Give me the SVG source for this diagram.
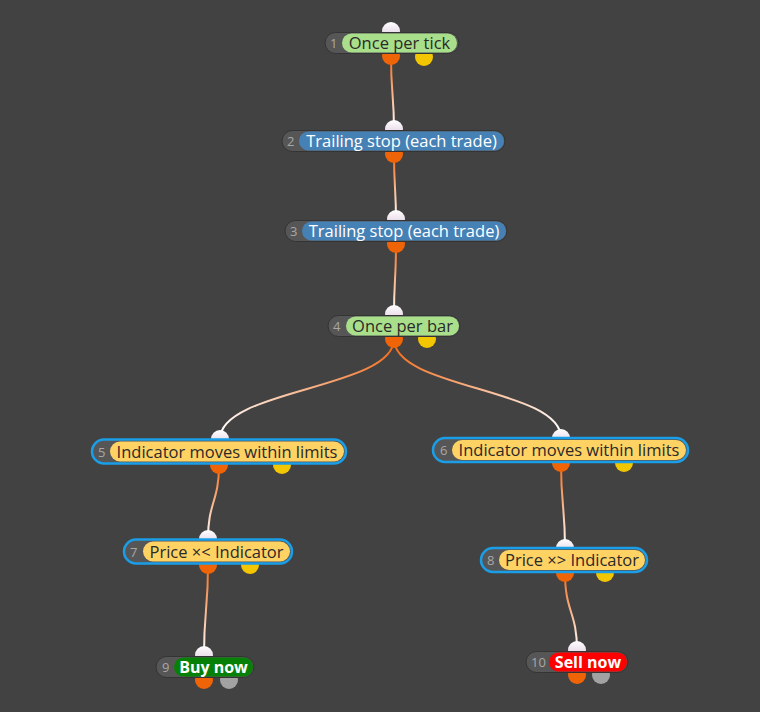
<svg xmlns="http://www.w3.org/2000/svg" width="760" height="712" viewBox="0 0 760 712">
<style>
.bg{fill:#424242}
.base{fill:#565656;stroke:#343434;stroke-width:1}
.sel{fill:#565656;stroke:#1a9ee8;stroke-width:2.5}
.num{font-family:"Open Sans","Noto Sans",sans-serif;font-size:13px;fill:#a8a8a8}
.lbl{font-family:"Open Sans","Noto Sans",sans-serif;font-size:16.5px;text-anchor:middle}
.dark{fill:#2a2a2a}
.light{fill:#ffffff}
.bold{font-weight:bold;fill:#ffffff;font-size:16px}
.green{fill:#a9df8b}
.blue{fill:#4681b5}
.yel{fill:#ffd264}
.buy{fill:#078007}
.sell{fill:#ff0000}
.in{fill:url(#gin)}
.out{fill:#f06408}
.aux{fill:#f2c600}
.grey{fill:#a2a2a2}
.edge{fill:none;stroke-width:2}
</style>
<defs>
<linearGradient id="gin" x1="0" y1="0" x2="0" y2="1"><stop offset="0" stop-color="#ffffff"/><stop offset="1" stop-color="#dcc6dc"/></linearGradient>
<linearGradient id="e1" gradientUnits="userSpaceOnUse" x1="391" y1="57" x2="394" y2="131"><stop offset="0" stop-color="#f26a18"/><stop offset="1" stop-color="#ffffff"/></linearGradient>
<linearGradient id="e2" gradientUnits="userSpaceOnUse" x1="394" y1="154" x2="396" y2="221"><stop offset="0" stop-color="#f26a18"/><stop offset="1" stop-color="#ffffff"/></linearGradient>
<linearGradient id="e3" gradientUnits="userSpaceOnUse" x1="396" y1="244" x2="394" y2="315"><stop offset="0" stop-color="#f26a18"/><stop offset="1" stop-color="#ffffff"/></linearGradient>
<linearGradient id="e4" gradientUnits="userSpaceOnUse" x1="394" y1="339" x2="220" y2="439"><stop offset="0" stop-color="#f26a18"/><stop offset="1" stop-color="#ffffff"/></linearGradient>
<linearGradient id="e5" gradientUnits="userSpaceOnUse" x1="394" y1="339" x2="561" y2="438"><stop offset="0" stop-color="#f26a18"/><stop offset="1" stop-color="#ffffff"/></linearGradient>
<linearGradient id="e6" gradientUnits="userSpaceOnUse" x1="219" y1="465" x2="208" y2="539"><stop offset="0" stop-color="#f26a18"/><stop offset="1" stop-color="#ffffff"/></linearGradient>
<linearGradient id="e7" gradientUnits="userSpaceOnUse" x1="561" y1="463" x2="565" y2="548"><stop offset="0" stop-color="#f26a18"/><stop offset="1" stop-color="#ffffff"/></linearGradient>
<linearGradient id="e8" gradientUnits="userSpaceOnUse" x1="208" y1="565" x2="204" y2="655"><stop offset="0" stop-color="#f26a18"/><stop offset="1" stop-color="#ffffff"/></linearGradient>
<linearGradient id="e9" gradientUnits="userSpaceOnUse" x1="565" y1="573" x2="577" y2="650"><stop offset="0" stop-color="#f26a18"/><stop offset="1" stop-color="#ffffff"/></linearGradient>
</defs>
<rect class="bg" x="0" y="0" width="760" height="712"/>
<g id="connectors">
<path class="edge" stroke="url(#e1)" d="M391,57 C391,94 394,94 394,131"/>
<path class="edge" stroke="url(#e2)" d="M394,154 C394,188 396,188 396,221"/>
<path class="edge" stroke="url(#e3)" d="M396,244 C396,280 394,280 394,315"/>
<path class="edge" stroke="url(#e4)" d="M394,339 C394,389 220,389 220,439"/>
<path class="edge" stroke="url(#e5)" d="M394,339 C394,389 561,388 561,438"/>
<path class="edge" stroke="url(#e6)" d="M219,465 C219,502 208,502 208,539"/>
<path class="edge" stroke="url(#e7)" d="M561,463 C561,506 565,506 565,548"/>
<path class="edge" stroke="url(#e8)" d="M208,565 C208,610 204,610 204,655"/>
<path class="edge" stroke="url(#e9)" d="M565,573 C565,612 577,612 577,650"/>
</g>
<g id="node1">
<circle class="in" cx="391" cy="31" r="9"/>
<circle class="out" cx="391" cy="56" r="9"/>
<circle class="aux" cx="424" cy="57" r="9"/>
<rect class="base" x="325" y="32.5" width="134" height="21" rx="10.5"/>
<rect class="green" x="342" y="33.5" width="115" height="19" rx="9.5"/>
<text class="num" x="330" y="48">1</text>
<text class="lbl dark" x="399.5" y="49">Once per tick</text>
</g>
<g id="node2">
<circle class="in" cx="394" cy="129" r="9"/>
<circle class="out" cx="394" cy="154" r="9"/>
<rect class="base" x="282" y="130.5" width="223" height="21" rx="10.5"/>
<rect class="blue" x="299" y="131.5" width="205" height="19" rx="9.5"/>
<text class="num" x="287" y="146">2</text>
<text class="lbl light" x="401.5" y="147">Trailing stop (each trade)</text>
</g>
<g id="node3">
<circle class="in" cx="396" cy="219" r="9"/>
<circle class="out" cx="396" cy="244" r="9"/>
<rect class="base" x="285" y="220.5" width="222" height="21" rx="10.5"/>
<rect class="blue" x="302" y="221.5" width="204" height="19" rx="9.5"/>
<text class="num" x="290" y="236">3</text>
<text class="lbl light" x="404" y="237">Trailing stop (each trade)</text>
</g>
<g id="node4">
<circle class="in" cx="394" cy="314" r="9"/>
<circle class="out" cx="394" cy="339" r="9"/>
<circle class="aux" cx="427" cy="339" r="9"/>
<rect class="base" x="328" y="315.5" width="132" height="21" rx="10.5"/>
<rect class="green" x="346" y="316.5" width="113" height="19" rx="9.5"/>
<text class="num" x="333" y="331">4</text>
<text class="lbl dark" x="402.5" y="332">Once per bar</text>
</g>
<g id="node5">
<circle class="in" cx="220" cy="439" r="9"/>
<circle class="out" cx="219" cy="465" r="9"/>
<circle class="aux" cx="282" cy="465" r="9"/>
<rect class="sel" x="92" y="439.5" width="254" height="24" rx="12"/>
<rect class="yel" x="110" y="441.5" width="234" height="20" rx="10"/>
<text class="num" x="98" y="456.5">5</text>
<text class="lbl dark" x="227" y="457.5">Indicator moves within limits</text>
</g>
<g id="node6">
<circle class="in" cx="561" cy="438" r="9"/>
<circle class="out" cx="561" cy="463" r="9"/>
<circle class="aux" cx="624" cy="463" r="9"/>
<rect class="sel" x="433" y="438" width="255" height="24" rx="12"/>
<rect class="yel" x="452" y="440" width="234" height="20" rx="10"/>
<text class="num" x="440" y="455">6</text>
<text class="lbl dark" x="569" y="456">Indicator moves within limits</text>
</g>
<g id="node7">
<circle class="in" cx="208" cy="539" r="9"/>
<circle class="out" cx="208" cy="565" r="9"/>
<circle class="aux" cx="250" cy="565" r="9"/>
<rect class="sel" x="124" y="539.5" width="168" height="24" rx="12"/>
<rect class="yel" x="143" y="541.5" width="147" height="20" rx="10"/>
<text class="num" x="130" y="556.5">7</text>
<text class="lbl dark" x="216.5" y="557.5">Price ×&lt; Indicator</text>
</g>
<g id="node8">
<circle class="in" cx="565" cy="548" r="9"/>
<circle class="out" cx="565" cy="573" r="9"/>
<circle class="aux" cx="605" cy="573" r="9"/>
<rect class="sel" x="481" y="548" width="166" height="24" rx="12"/>
<rect class="yel" x="499" y="550" width="146" height="20" rx="10"/>
<text class="num" x="487" y="565">8</text>
<text class="lbl dark" x="572" y="566">Price ×&gt; Indicator</text>
</g>
<g id="node9">
<circle class="in" cx="204" cy="655" r="9"/>
<circle class="out" cx="204" cy="680" r="9"/>
<circle class="grey" cx="229" cy="680" r="9"/>
<rect class="base" x="156" y="656.5" width="98" height="21" rx="10.5"/>
<rect class="buy" x="174" y="657.5" width="79" height="19" rx="9.5"/>
<text class="num" x="162" y="672">9</text>
<text class="lbl bold" x="213.5" y="673">Buy now</text>
</g>
<g id="node10">
<circle class="in" cx="577" cy="650" r="9"/>
<circle class="out" cx="577" cy="675" r="9"/>
<circle class="grey" cx="601" cy="675" r="9"/>
<rect class="base" x="526" y="651.5" width="102" height="21" rx="10.5"/>
<rect class="sell" x="549" y="652.5" width="78" height="19" rx="9.5"/>
<text class="num" x="531" y="667">10</text>
<text class="lbl bold" x="588" y="668">Sell now</text>
</g>
</svg>
